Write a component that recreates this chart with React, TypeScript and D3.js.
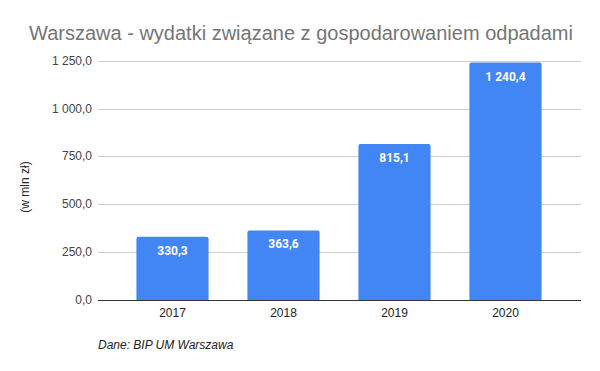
import React, { useEffect, useRef } from "react";
import * as d3 from "d3";

const years = ["2017", "2018", "2019", "2020"];
const values = [330.3, 363.6, 815.1, 1240.4];
const yTicks = [0, 250, 500, 750, 1000, 1250];

const W = 600;
const H = 371;

// polish number format: space thousands, comma decimal
const plFormat = d3.formatLocale({
  decimal: ",",
  thousands: " ",
  grouping: [3],
  currency: ["", " zł"],
}).format(",.1f");

const App: React.FC = () => {
  const svgRef = useRef<SVGSVGElement | null>(null);

  useEffect(() => {
    if (!svgRef.current) return;
    const svg = d3.select(svgRef.current);
    svg.selectAll("*").remove();

    const gridLeft = 98;
    const gridRight = 581;

    const x = d3.scaleBand<string>().domain(years).range([117, 561]).paddingInner(0.35).paddingOuter(0.175);
    const y = d3.scaleLinear().domain([0, 1250]).range([300, 60.7]);

    svg.append("rect").attr("width", W).attr("height", H).attr("fill", "#fff");

    svg
      .append("text")
      .attr("x", 301)
      .attr("y", 40)
      .attr("text-anchor", "middle")
      .style("font-family", "Arial, 'Liberation Sans', sans-serif")
      .style("font-size", "20px")
      .style("fill", "#757575")
      .text("Warszawa - wydatki związane z gospodarowaniem odpadami");

    // gridlines
    svg
      .selectAll(".grid")
      .data(yTicks.filter((t) => t !== 0))
      .enter()
      .append("line")
      .attr("x1", gridLeft)
      .attr("x2", gridRight)
      .attr("y1", (d) => Math.round(y(d)) + 0.5)
      .attr("y2", (d) => Math.round(y(d)) + 0.5)
      .attr("stroke", "#cccccc")
      .attr("stroke-width", 1);

    svg
      .selectAll(".ytick")
      .data(yTicks)
      .enter()
      .append("text")
      .attr("x", 92)
      .attr("y", (d) => y(d) + 4)
      .attr("text-anchor", "end")
      .style("font-family", "Arial, 'Liberation Sans', sans-serif")
      .style("font-size", "12px")
      .style("fill", "#444")
      .text((d) => plFormat(d));

    svg
      .append("text")
      .attr("transform", `translate(29,187) rotate(-90)`)
      .attr("text-anchor", "middle")
      .style("font-family", "Arial, 'Liberation Sans', sans-serif")
      .style("font-size", "12px")
      .style("fill", "#222")
      .text("(w mln zł)");

    const r = 2;
    svg
      .selectAll(".bar")
      .data(values)
      .enter()
      .append("path")
      .attr("fill", "#4285f4")
      .attr("d", (d, i) => {
        const x0 = x(years[i]) ?? 0;
        const x1 = x0 + x.bandwidth();
        const top = y(d);
        const bottom = y(0);
        return `M${x0},${bottom}V${top + r}Q${x0},${top} ${x0 + r},${top}H${x1 - r}Q${x1},${top} ${x1},${top + r}V${bottom}Z`;
      });

    svg
      .selectAll(".label")
      .data(values)
      .enter()
      .append("text")
      .attr("x", (d, i) => (x(years[i]) ?? 0) + x.bandwidth() / 2)
      .attr("y", (d) => y(d) + 18)
      .attr("text-anchor", "middle")
      .style("font-family", "Roboto, Arial, sans-serif")
      .style("font-weight", "bold")
      .style("font-size", "12px")
      .style("fill", "#fff")
      .text((d) => plFormat(d));

    // baseline
    svg
      .append("line")
      .attr("x1", gridLeft)
      .attr("x2", gridRight)
      .attr("y1", y(0) + 0.5)
      .attr("y2", y(0) + 0.5)
      .attr("stroke", "#333")
      .attr("stroke-width", 1);

    svg
      .selectAll(".xtick")
      .data(years)
      .enter()
      .append("text")
      .attr("x", (d) => (x(d) ?? 0) + x.bandwidth() / 2)
      .attr("y", 317)
      .attr("text-anchor", "middle")
      .style("font-family", "Arial, 'Liberation Sans', sans-serif")
      .style("font-size", "12px")
      .style("fill", "#222")
      .text((d) => d);

    svg
      .append("text")
      .attr("x", 98)
      .attr("y", 349)
      .style("font-family", "Arial, 'Liberation Sans', sans-serif")
      .style("font-size", "12px")
      .style("font-style", "italic")
      .style("fill", "#222")
      .text("Dane: BIP UM Warszawa");
  }, []);

  return (
    <svg
      ref={svgRef}
      width={W}
      height={H}
      style={{ position: "absolute", left: 0, top: 0 }}
    />
  );
};

export default App;
